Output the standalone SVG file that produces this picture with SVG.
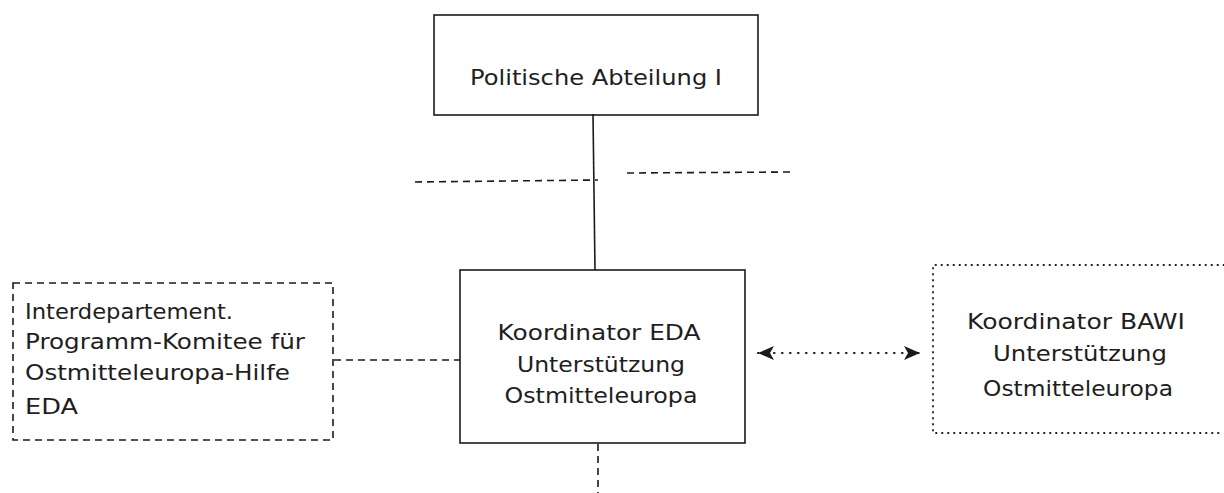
<svg xmlns="http://www.w3.org/2000/svg" width="1224" height="493" viewBox="0 0 1224 493">
<style>
  .t { font-family: "DejaVu Sans", "Liberation Sans", sans-serif; font-size: 21px; fill: #1e1e1e; }
  .solid { fill: none; stroke: #1a1a1a; stroke-width: 1.6; }
  .dash { fill: none; stroke: #1a1a1a; stroke-width: 1.6; stroke-dasharray: 7 5; }
  .dot { fill: none; stroke: #1a1a1a; stroke-width: 1.8; stroke-dasharray: 0.5 5.5; stroke-linecap: round; }
  .dotc { fill: none; stroke: #1a1a1a; stroke-width: 2.2; stroke-dasharray: 0.5 7.5; stroke-linecap: round; }
</style>
<defs>
  <marker id="ahb" viewBox="0 0 16 14" refX="16" refY="7" markerWidth="16" markerHeight="14" markerUnits="userSpaceOnUse" orient="auto-start-reverse">
    <path d="M0,0 L16,7 L0,14 L4,7 Z" fill="#1a1a1a"/>
  </marker>
</defs>

<g id="connectors">
  <line class="solid" x1="593" y1="114" x2="595" y2="270"/>
  <line class="dash" x1="415" y1="182" x2="598" y2="180"/>
  <line class="dash" x1="627" y1="173" x2="795" y2="172"/>
  <line class="dash" x1="334" y1="360" x2="460" y2="360"/>
  <line class="dash" x1="598" y1="444" x2="598" y2="493"/>
  <line class="dotc" x1="758" y1="353" x2="920" y2="353" marker-start="url(#ahb)" marker-end="url(#ahb)"/>
</g>

<g id="node-politische">
  <rect class="solid" x="434" y="15" width="324" height="100"/>
  <text class="t" x="596" y="85" text-anchor="middle" textLength="252" lengthAdjust="spacingAndGlyphs">Politische Abteilung I</text>
</g>

<g id="node-koordinator-eda">
  <rect class="solid" x="460" y="270" width="285" height="173"/>
  <text class="t" x="599" y="340" text-anchor="middle" textLength="203" lengthAdjust="spacingAndGlyphs">Koordinator EDA</text>
  <text class="t" x="601" y="372" text-anchor="middle" textLength="168" lengthAdjust="spacingAndGlyphs">Unterstützung</text>
  <text class="t" x="601" y="403" text-anchor="middle" textLength="193" lengthAdjust="spacingAndGlyphs">Ostmitteleuropa</text>
</g>

<g id="node-komitee">
  <rect class="dash" x="13" y="283" width="320" height="157"/>
  <text class="t" x="25" y="319" textLength="208" lengthAdjust="spacingAndGlyphs">Interdepartement.</text>
  <text class="t" x="25" y="349" textLength="280" lengthAdjust="spacingAndGlyphs">Programm-Komitee für</text>
  <text class="t" x="25" y="380" textLength="265" lengthAdjust="spacingAndGlyphs">Ostmitteleuropa-Hilfe</text>
  <text class="t" x="25" y="414" textLength="53" lengthAdjust="spacingAndGlyphs">EDA</text>
</g>

<g id="node-koordinator-bawi">
  <path class="dot" d="M1224,265 L933,265 L933,433 L1224,433"/>
  <text class="t" x="1076" y="329" text-anchor="middle" textLength="218" lengthAdjust="spacingAndGlyphs">Koordinator BAWI</text>
  <text class="t" x="1080" y="361" text-anchor="middle" textLength="174" lengthAdjust="spacingAndGlyphs">Unterstützung</text>
  <text class="t" x="1078" y="396" text-anchor="middle" textLength="190" lengthAdjust="spacingAndGlyphs">Ostmitteleuropa</text>
</g>
</svg>
